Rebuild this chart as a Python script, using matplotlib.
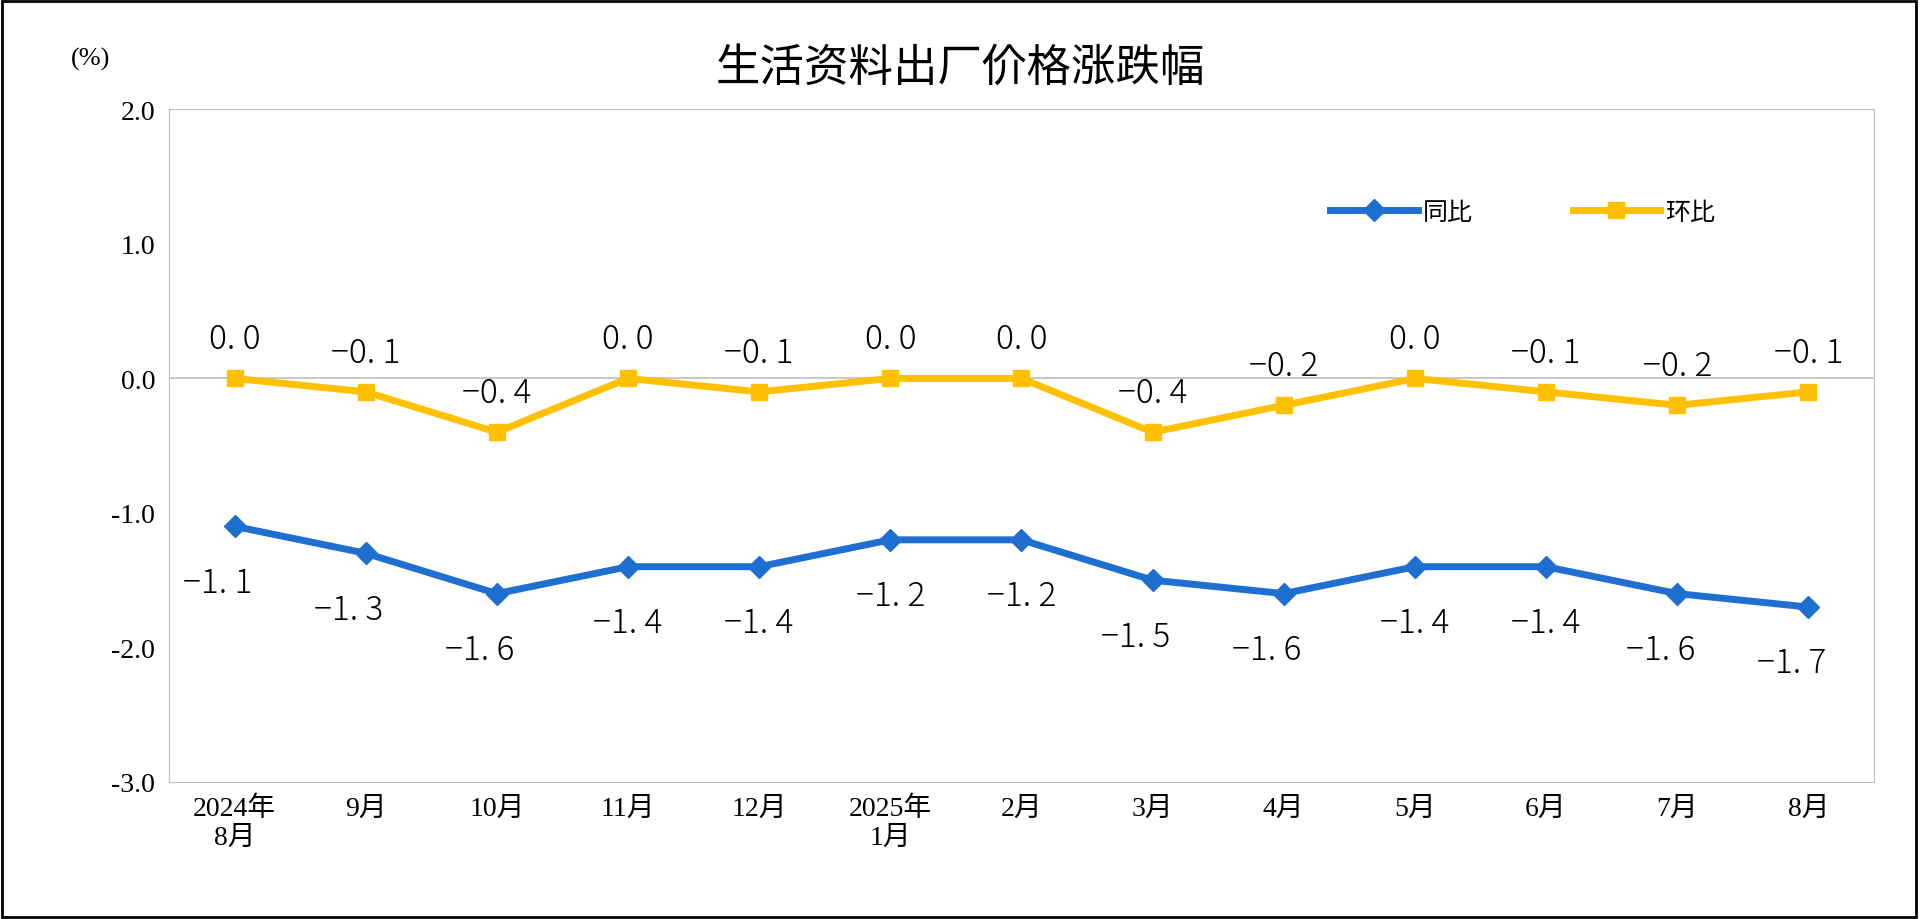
import matplotlib
matplotlib.use("Agg")
import matplotlib.pyplot as plt
from matplotlib.patches import Rectangle
from matplotlib import font_manager as fm
import glob

for f in glob.glob("/usr/share/fonts/**/*CJK*", recursive=True):
    try:
        fm.fontManager.addfont(f)
    except Exception:
        pass
names = sorted({f.name for f in fm.fontManager.ttflist if "CJK" in f.name})
pref = [n for n in names if "SC" in n] + names
CJK = pref[0] if pref else "Noto Sans CJK SC"
SERIF = "Liberation Serif"

categories = ["2024年\n8月", "9月", "10月", "11月", "12月", "2025年\n1月", "2月", "3月", "4月", "5月", "6月", "7月", "8月"]
yoy = [-1.1, -1.3, -1.6, -1.4, -1.4, -1.2, -1.2, -1.5, -1.6, -1.4, -1.4, -1.6, -1.7]
mom = [0.0, -0.1, -0.4, 0.0, -0.1, 0.0, 0.0, -0.4, -0.2, 0.0, -0.1, -0.2, -0.1]
yticks = [2.0, 1.0, 0.0, -1.0, -2.0, -3.0]

blue = "#1F6FD0"
yellow = "#FFC000"

fig = plt.figure(figsize=(19.2, 9.2), dpi=100)
ax = fig.add_axes([0.088, 0.149, 0.888, 0.731])
x = list(range(len(categories)))
ax.plot(x, yoy, color=blue, lw=5, marker="D", ms=11, label="同比")
ax.plot(x, mom, color=yellow, lw=5, marker="s", ms=12, label="环比")
ax.axhline(0, color="#BFBFBF", lw=1.2, zorder=0)
ax.set_xlim(-0.5, len(categories) - 0.5)
ax.set_ylim(-3.0, 2.0)
ax.set_yticks(yticks)
ax.set_yticklabels([f"{v:.1f}" for v in yticks], fontfamily=SERIF, fontsize=20)
ax.set_xticks(x)
ax.set_xticklabels(categories, fontfamily=[SERIF, CJK], fontsize=20, linespacing=1.2)
ax.tick_params(length=0, pad=10)
for s in ax.spines.values():
    s.set_color("#BFBFBF")

def fmt(v):
    return " ".join(f"{v:.1f}".replace("-", "−").split("."))

for i, v in enumerate(yoy):
    dx = -12 if i in (0, 1, 2, 7, 8, 11, 12) else 0
    ax.annotate(f"{v:.1f}".replace("-", "−").replace(".", ". "), (i, v), xytext=(dx, -28), textcoords="offset points",
                ha="center", va="top", fontsize=24, fontfamily=CJK, fontweight="light")
for i, v in enumerate(mom):
    ax.annotate(f"{v:.1f}".replace("-", "−").replace(".", ". "), (i, v), xytext=(0, 16), textcoords="offset points",
                ha="center", va="bottom", fontsize=24, fontfamily=CJK, fontweight="light")

ax.legend(loc="upper right", bbox_to_anchor=(0.92, 0.9), ncol=2, frameon=False,
          prop={"family": CJK, "size": 18}, handlelength=3.5, columnspacing=4, handletextpad=0.2)
fig.text(0.5, 0.925, "生活资料出厂价格涨跌幅", ha="center", va="center", fontsize=32, fontfamily=CJK)
fig.text(0.047, 0.935, "(%)", ha="center", va="center", fontsize=19, fontfamily=SERIF)
fig.patches.append(Rectangle((0.001, 0.002), 0.997, 0.996, transform=fig.transFigure,
                             fill=False, edgecolor="black", lw=2))
fig.savefig("out.png", dpi=100)
